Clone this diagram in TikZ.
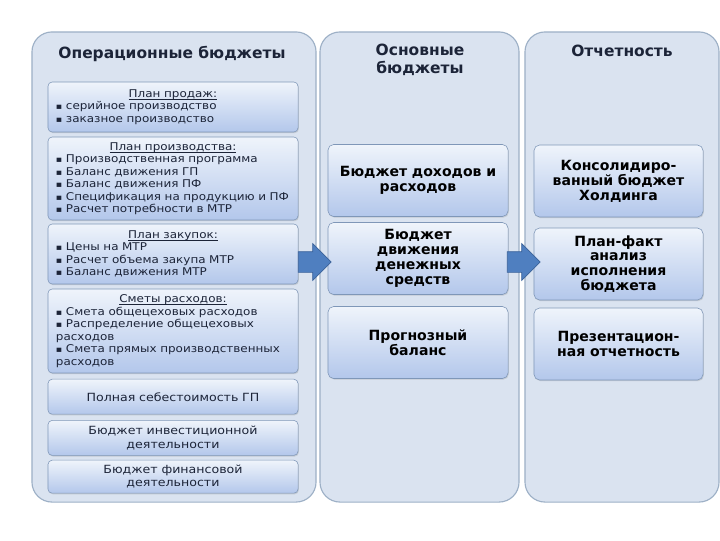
\documentclass[tikz,border=0pt]{standalone}
\usepackage{fontspec}
\setmainfont{DejaVu Sans}
\newfontfamily\widefont{DejaVu Sans}[FakeStretch=1.12]
\usetikzlibrary{positioning,shapes.arrows,shadows}
\definecolor{panelfill}{HTML}{DAE3F0}
\definecolor{paneldraw}{HTML}{9DB0C6}
\definecolor{boxtop}{HTML}{EFF4FB}
\definecolor{boxbot}{HTML}{B3C7EB}
\definecolor{boxdraw}{HTML}{7F97B8}
\definecolor{arrfill}{HTML}{4F7FC0}
\definecolor{arrdraw}{HTML}{3A629A}
\definecolor{txt}{HTML}{1C2438}
\newcommand{\sq}{{\fontsize{6}{6}\selectfont ▪}~}
\newcommand{\hd}[1]{\setbox0=\hbox{#1}\rlap{\rule[-1.7pt]{\wd0}{0.45pt}}\box0}

\begin{document}
\begin{tikzpicture}[x=0.025cm, y=-0.025cm,
    panel/.style={draw=paneldraw, line width=0.8pt, fill=panelfill,
      rounded corners=0.5cm, minimum height=11.75cm, inner sep=0pt},
    ptitle/.style={font=\bfseries\fontsize{11}{12.5}\selectfont,
      align=center, text=txt},
    opbox/.style={draw=boxdraw, rounded corners=3pt, top color=boxtop,
      bottom color=boxbot, minimum width=6.25cm, text width=5.85cm,
      inner xsep=0.2cm, inner ysep=1pt, align=left, text=txt,
      font=\widefont\fontsize{7.6}{8.9}\selectfont,
      drop shadow={opacity=0.25, shadow xshift=0.6pt, shadow yshift=-0.8pt}},
    sumbox/.style={opbox, align=center,
      font=\widefont\fontsize{8}{9.5}\selectfont},
    mainbox/.style={draw=boxdraw, rounded corners=4pt, top color=boxtop,
      bottom color=boxbot, text width=4.1cm, align=center, text=black,
      minimum height=1.8cm, inner xsep=0pt, inner ysep=1pt,
      font=\bfseries\fontsize{10}{10.6}\selectfont,
      drop shadow={opacity=0.25, shadow xshift=0.6pt, shadow yshift=-0.8pt}},
    flow/.style={single arrow, draw=arrdraw, fill=arrfill, line width=0.5pt,
      minimum height=0.82cm, minimum width=0.9cm, inner xsep=0pt,
      inner ysep=0.25cm, single arrow head extend=0.2cm},
  ]
  \useasboundingbox (0,0) rectangle (720,540);

  % --- three column panels ---
  \node[panel, minimum width=7.1cm] (oppanel) at (174,267) {};
  \node[panel, minimum width=4.975cm] (mainpanel) at (419.5,267) {};
  \node[panel, minimum width=4.85cm] (reppanel) at (622,267) {};

  \node[ptitle] (optitle) at (172,54) {Операционные бюджеты};
  \node[ptitle] (maintitle) at (420,60) {Основные\\бюджеты};
  \node[ptitle] (reptitle) at (622,51) {Отчетность};

  % --- operating budgets (left column) ---
  \node[opbox, minimum height=1.25cm] (sales) at (173,107)
    {{\centering\hd{План продаж:}\par}
     \sq серийное производство\\
     \sq заказное производство};
  \node[opbox, minimum height=2.075cm] (prod) at (173,178.5)
    {{\centering\hd{План производства:}\par}
     \sq Производственная программа\\
     \sq Баланс движения ГП\\
     \sq Баланс движения ПФ\\
     \sq Спецификация на продукцию и ПФ\\
     \sq Расчет потребности в МТР};
  \node[opbox, minimum height=1.5cm] (purch) at (173,254)
    {{\centering\hd{План закупок:}\par}
     \sq Цены на МТР\\
     \sq Расчет объема закупа МТР\\
     \sq Баланс движения МТР};
  \node[opbox, minimum height=2.1cm] (costs) at (173,331)
    {{\centering\hd{Сметы расходов:}\par}
     \sq Смета общецеховых расходов\\
     \sq Распределение общецеховых\\
     расходов\\
     \sq Смета прямых производственных\\
     расходов};
  \node[sumbox, minimum height=0.875cm, below=4pt of costs] (fullcost)
    {Полная себестоимость ГП};
  \node[sumbox, minimum height=0.875cm, below=4pt of fullcost] (invest)
    {Бюджет инвестиционной\\деятельности};
  \node[sumbox, minimum height=0.825cm, below=3pt of invest] (finance)
    {Бюджет финансовой\\деятельности};

  % --- main budgets (middle column) ---
  \node[mainbox, minimum width=4.5cm] (pnl) at (418,180.5)
    {Бюджет доходов и\\расходов};
  \node[mainbox, minimum width=4.5cm] (cash) at (418,258.5)
    {Бюджет\\движения\\денежных\\средств};
  \node[mainbox, minimum width=4.5cm] (balance) at (418,342.5)
    {Прогнозный\\баланс};

  % --- reporting (right column) ---
  \node[mainbox, minimum width=4.225cm] (consol) at (618.5,181)
    {Консолидиро-\\ванный бюджет\\Холдинга};
  \node[mainbox, minimum width=4.225cm] (planfact) at (618.5,264)
    {План-факт\\анализ\\исполнения\\бюджета};
  \node[mainbox, minimum width=4.225cm] (present) at (618.5,344)
    {Презентацион-\\ная отчетность};

  % block arrows between columns
  \node[flow] (flow1) at (309.5,262) {};
  \node[flow] (flow2) at (518.5,262) {};

\end{tikzpicture}
\end{document}
